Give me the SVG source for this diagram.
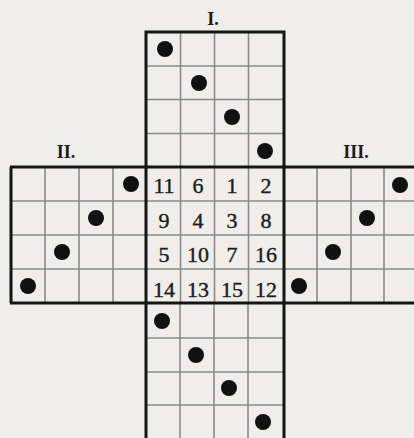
<svg xmlns="http://www.w3.org/2000/svg" width="414" height="438" viewBox="0 0 414 438">
<style>
.thin{stroke:#8a8a86;stroke-width:1.6;fill:none}
.thick{stroke:#151515;stroke-width:3;fill:none}
.dot{fill:#111}
.num{font-family:"Liberation Serif",serif;font-size:22px;fill:#1c1c1c;stroke:#1c1c1c;stroke-width:0.4;text-anchor:middle}
.lbl{font-family:"Liberation Serif",serif;font-size:18px;font-weight:bold;fill:#1c1c1c;text-anchor:middle}
</style>
<rect width="414" height="438" fill="#efeeea"/>
<g id="grid-I">
<path class="thin" d="M180.5 32V167M214.5 32V167M248.5 32V167M146 66H283M146 99.5H283M146 133.5H283"/>
<circle class="dot" cx="165" cy="49" r="8"/>
<circle class="dot" cx="199" cy="83" r="8"/>
<circle class="dot" cx="232" cy="117" r="8"/>
<circle class="dot" cx="265" cy="151" r="8"/>
<text class="lbl" x="213" y="25">I.</text>
</g>
<g id="grid-II">
<path class="thin" d="M45 167V303M79 167V303M113 167V303M11 201H146M11 235H146M11 269H146"/>
<circle class="dot" cx="131" cy="184" r="8"/>
<circle class="dot" cx="96" cy="218" r="8"/>
<circle class="dot" cx="62" cy="252" r="8"/>
<circle class="dot" cx="28" cy="286" r="8"/>
<text class="lbl" x="66" y="158">II.</text>
</g>
<g id="grid-III">
<path class="thin" d="M317 167V303M351 167V303M384 167V303M283 201H414M283 235H414M283 269H414"/>
<circle class="dot" cx="400" cy="185" r="8"/>
<circle class="dot" cx="367" cy="218" r="8"/>
<circle class="dot" cx="333" cy="252" r="8"/>
<circle class="dot" cx="299" cy="286" r="8"/>
<text class="lbl" x="356" y="158">III.</text>
</g>
<g id="grid-center">
<path class="thin" d="M180.5 167V303M214.5 167V303M248.5 167V303M146 201H283M146 235H283M146 269H283"/>
<text class="num" x="164" y="193">11</text><text class="num" x="198" y="193">6</text><text class="num" x="232" y="193">1</text><text class="num" x="266" y="193">2</text>
<text class="num" x="164" y="228">9</text><text class="num" x="198" y="228">4</text><text class="num" x="232" y="228">3</text><text class="num" x="266" y="228">8</text>
<text class="num" x="164" y="262">5</text><text class="num" x="198" y="262">10</text><text class="num" x="232" y="262">7</text><text class="num" x="266" y="262">16</text>
<text class="num" x="164" y="297">14</text><text class="num" x="198" y="297">13</text><text class="num" x="232" y="297">15</text><text class="num" x="266" y="297">12</text>
</g>
<g id="grid-IV">
<path class="thin" d="M180 303V438M214 303V438M248 303V438M146 338H283M146 372H283M146 405H283"/>
<circle class="dot" cx="162" cy="321" r="8"/>
<circle class="dot" cx="196" cy="355" r="8"/>
<circle class="dot" cx="229" cy="388" r="8"/>
<circle class="dot" cx="263" cy="422" r="8"/>
</g>
<g id="connectors">
<path class="thick" d="M146 440V32H284V440M11 167V303M10 167H416M10 303H416"/>
</g>
</svg>
